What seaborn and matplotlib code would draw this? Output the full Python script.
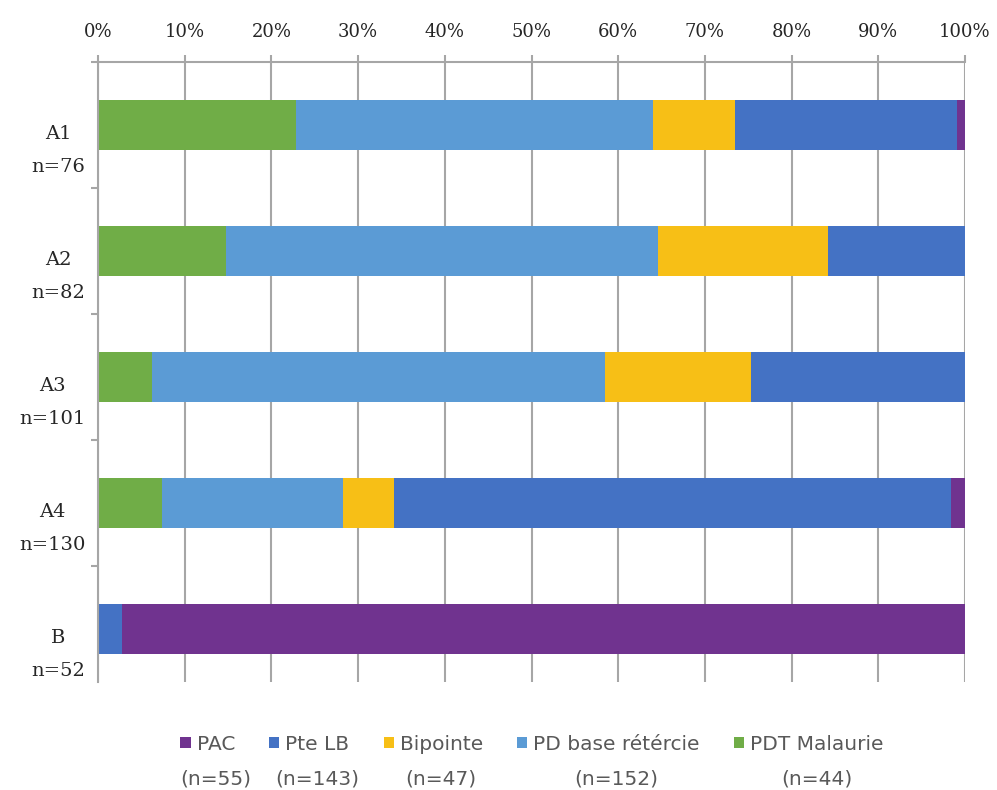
import matplotlib
matplotlib.use("Agg")
import matplotlib.pyplot as plt
import matplotlib.transforms as mtransforms
from matplotlib.patches import Patch
import numpy as np
import pandas as pd
import seaborn as sns

# Share of each point type per level (percent of the level's total)
categories = ["A1", "A2", "A3", "A4", "B"]
level_counts = ["n=76", "n=82", "n=101", "n=130", "n=52"]

pdt_malaurie = [22.8, 14.8, 6.2, 7.4, 0.0]
pd_base = [41.2, 49.8, 52.3, 20.9, 0.0]
bipointe = [9.5, 19.6, 16.8, 5.8, 0.0]
pte_lb = [25.6, 15.8, 24.7, 64.3, 2.8]
pac = [0.9, 0.0, 0.0, 1.6, 97.2]

# Stacking order (left to right) and legend order
series_names = ["PDT Malaurie", "PD base rétércie", "Bipointe", "Pte LB", "PAC"]
series_values = [pdt_malaurie, pd_base, bipointe, pte_lb, pac]
series_colors = ["#70AD47", "#5B9BD5", "#F7BF16", "#4472C4", "#70338F"]

legend_names = ["PAC", "Pte LB", "Bipointe", "PD base rétércie", "PDT Malaurie"]
legend_counts = ["(n=55)", "(n=143)", "(n=47)", "(n=152)", "(n=44)"]

x_ticks = list(range(0, 101, 10))

sns.set_theme(style="white")
serif = ["DejaVu Serif"]
sans = ["DejaVu Sans"]
plt.rcParams["font.family"] = serif

fig = plt.figure(figsize=(9.97, 7.9), dpi=100)
ax = fig.add_axes([98 / 997, 1 - 682 / 790, (965 - 98) / 997, (682 - 62) / 790])

# Cumulative table: each stacked segment is drawn as a bar ending at its cumulative sum,
# painted from the longest to the shortest so earlier segments sit on top.
df = pd.DataFrame(dict(zip(series_names, series_values)), index=categories)
cum = df.cumsum(axis=1)
for name, color in reversed(list(zip(series_names, series_colors))):
    sns.barplot(x=cum[name].values, y=categories, orient="h", color=color,
                saturation=1, width=0.4, errorbar=None, ax=ax, linewidth=0)

grid_color = "#A6A6A6"
text_color = "#262626"
ax.set_xlim(0, 100)
ax.set_ylim(4.42, -0.5)
ax.set_xlabel("")
ax.set_ylabel("")

# Percentage axis along the top
ax.xaxis.tick_top()
ax.set_xticks(x_ticks)
ax.set_xticklabels([f"{v}%" for v in x_ticks])
ax.tick_params(axis="x", which="major", length=5, width=1.5, color=grid_color,
               pad=10, labelsize=13, labelcolor=text_color, top=True, bottom=False)
ax.grid(axis="x", color=grid_color, linewidth=1.5)
ax.grid(axis="y", visible=False)
ax.set_axisbelow(True)

# Category labels with their sample sizes
ax.set_yticks(range(len(categories)))
ax.set_yticklabels([f"{c}\n{n}" for c, n in zip(categories, level_counts)])
ax.set_yticks(np.arange(-0.5, len(categories) - 1, 1.0), minor=True)
ax.tick_params(axis="y", which="major", length=0, pad=9, labelsize=14, labelcolor=text_color)
ax.tick_params(axis="y", which="minor", length=5, width=1.5, color=grid_color, left=True)
offset = mtransforms.ScaledTranslation(0, -0.16, fig.dpi_scale_trans)
for lbl in ax.get_yticklabels():
    lbl.set_multialignment("center")
    lbl.set_linespacing(2.1)
    lbl.set_transform(lbl.get_transform() + offset)

for side in ["right", "bottom"]:
    ax.spines[side].set_visible(False)
for side in ["left", "top"]:
    ax.spines[side].set_color(grid_color)
    ax.spines[side].set_linewidth(1.5)

# Legend beneath the chart, with totals under each entry
color_of = dict(zip(series_names, series_colors))
handles = [Patch(facecolor=color_of[n], edgecolor="none") for n in legend_names]
leg = fig.legend(handles, legend_names, loc="center", ncol=5, frameon=False,
                 bbox_to_anchor=(532 / 997, 1 - 744 / 790),
                 handlelength=0.5, handleheight=0.5, handletextpad=0.3,
                 columnspacing=1.7, prop={"family": sans, "size": 14.5})
for t in leg.get_texts():
    t.set_color("#595959")

fig.canvas.draw()
renderer = fig.canvas.get_renderer()
inv = fig.transFigure.inverted()
for t, count in zip(leg.get_texts(), legend_counts):
    bb = t.get_window_extent(renderer)
    cx = inv.transform(((bb.x0 + bb.x1) / 2, 0))[0]
    fig.text(cx, 1 - 779 / 790, count, ha="center", va="center",
             color="#595959", fontsize=14.5, family=sans)

fig.savefig("out.png", dpi=100, facecolor="white")
